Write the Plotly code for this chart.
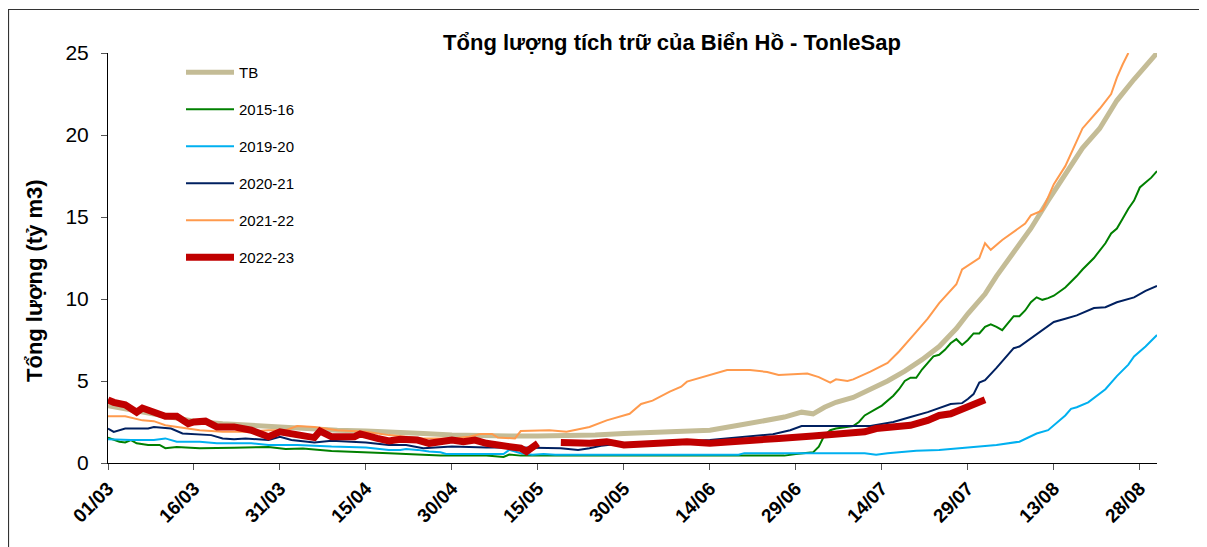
import plotly.graph_objects as go

# Day offsets from 01/03 and values (tỷ m3)
tick_days = [0, 15, 30, 45, 60, 75, 90, 105, 120, 135, 150, 165, 180]
tick_labels = ["01/03", "16/03", "31/03", "15/04", "30/04", "15/05", "30/05",
               "14/06", "29/06", "14/07", "29/07", "13/08", "28/08"]

tb_days = [0, 5, 10, 15, 20, 25, 30, 35, 40, 45, 50, 55, 60, 65, 70, 75, 80, 85, 90, 95,
           100, 105, 110, 115, 118, 121, 123, 125, 127, 130, 133, 136, 139, 142, 145, 148,
           150, 153, 155, 158, 161, 164, 167, 170, 173, 176, 179, 181, 183]
tb_vals = [3.5, 3.2, 2.85, 2.55, 2.4, 2.3, 2.15, 2.05, 2.0, 1.95, 1.9, 1.8, 1.7, 1.65, 1.65,
           1.65, 1.65, 1.7, 1.8, 1.85, 1.9, 2.0, 2.3, 2.6, 2.8, 3.1, 3.0, 3.4, 3.7, 4.0, 4.5,
           5.0, 5.6, 6.3, 7.1, 8.2, 9.1, 10.3, 11.4, 12.8, 14.3, 16.0, 17.6, 19.2, 20.4,
           22.1, 23.4, 24.2, 25.0]

g15_days = [0, 2, 3, 4, 5, 7, 9, 10, 12, 16, 22, 28, 31, 34, 39, 45, 49, 52, 58, 66, 69, 70,
            72, 118, 120, 123, 124, 125, 126, 127, 130, 131, 132, 134, 135, 137, 138, 139,
            140, 141, 142, 144, 145, 146, 147, 148, 149, 150, 151, 152, 153, 154, 155, 156,
            157, 158, 159, 160, 161, 162, 163, 164, 165, 167, 169, 170, 172, 174, 175, 176,
            177, 178, 179, 180, 181, 182, 183]
g15_vals = [1.55, 1.3, 1.25, 1.4, 1.2, 1.1, 1.1, 0.9, 0.97, 0.9, 0.93, 0.97, 0.85, 0.88, 0.73,
            0.67, 0.6, 0.55, 0.45, 0.45, 0.37, 0.52, 0.45, 0.45, 0.55, 0.65, 1.0, 1.7, 2.0,
            2.1, 2.25, 2.5, 2.9, 3.3, 3.5, 4.1, 4.5, 5.0, 5.2, 5.2, 5.7, 6.5, 6.6, 6.9, 7.3,
            7.55, 7.2, 7.5, 7.9, 7.9, 8.3, 8.45, 8.3, 8.1, 8.5, 8.95, 8.95, 9.3, 9.8, 10.1,
            9.95, 10.05, 10.2, 10.7, 11.4, 11.8, 12.5, 13.4, 14.0, 14.3, 14.9, 15.5, 16.0,
            16.8, 17.1, 17.4, 17.8]

y19_days = [0, 4, 8, 10, 12, 16, 19, 25, 28, 33, 39, 45, 49, 51, 52, 54, 56, 58, 59, 63, 69,
            70, 71, 72, 74, 76, 78, 110, 111, 132, 134, 136, 141, 145, 150, 155, 159, 162,
            164, 165, 167, 168, 169, 171, 173, 174, 176, 178, 179, 181, 183]
y19_vals = [1.45, 1.4, 1.4, 1.5, 1.3, 1.3, 1.2, 1.2, 1.1, 1.1, 1.0, 0.95, 0.8, 0.8, 0.85, 0.8,
            0.7, 0.65, 0.55, 0.55, 0.55, 0.8, 0.7, 0.6, 0.5, 0.55, 0.5, 0.5, 0.6, 0.6, 0.5,
            0.6, 0.75, 0.8, 0.95, 1.1, 1.3, 1.8, 2.0, 2.3, 2.9, 3.3, 3.4, 3.7, 4.25, 4.5, 5.3,
            6.0, 6.5, 7.1, 7.8]

y20_days = [0, 1, 3, 7, 8, 11, 13, 18, 20, 22, 24, 28, 30, 32, 36, 39, 45, 49, 52, 55, 60,
            66, 72, 79, 82, 84, 86, 90, 95, 100, 105, 111, 116, 119, 121, 133, 137, 140, 143,
            147, 149, 150, 151, 152, 153, 155, 157, 158, 159, 161, 163, 165, 167, 169, 172,
            174, 176, 179, 181, 183]
y20_vals = [2.1, 1.9, 2.1, 2.1, 2.2, 2.1, 1.8, 1.7, 1.5, 1.45, 1.5, 1.4, 1.6, 1.4, 1.25, 1.35,
            1.25, 1.1, 1.1, 0.9, 1.0, 0.95, 0.95, 0.9, 0.8, 0.9, 1.05, 1.2, 1.25, 1.3, 1.4,
            1.6, 1.75, 2.0, 2.25, 2.25, 2.5, 2.8, 3.1, 3.6, 3.65, 3.9, 4.2, 4.9, 5.05, 5.8,
            6.6, 7.0, 7.1, 7.6, 8.1, 8.6, 8.8, 9.0, 9.45, 9.5, 9.8, 10.1, 10.5, 10.8]

y21_days = [0, 3, 6, 8, 10, 14, 16, 20, 24, 28, 31, 33, 36, 40, 45, 49, 55, 60, 63, 65, 67,
            68, 71, 72, 75, 77, 80, 84, 87, 91, 93, 95, 98, 100, 101, 104, 108, 112, 115, 117,
            120, 122, 124, 126, 127, 129, 130, 133, 136, 138, 141, 143, 145, 148, 149, 152,
            153, 154, 156, 158, 160, 161, 163, 165, 167, 170, 173, 175, 176, 177, 178]
y21_vals = [2.85, 2.85, 2.6, 2.55, 2.3, 2.1, 2.0, 1.9, 1.9, 2.0, 2.0, 2.25, 2.2, 2.0, 1.9, 1.7,
            1.5, 1.5, 1.6, 1.77, 1.77, 1.55, 1.5, 1.95, 2.0, 2.0, 1.9, 2.2, 2.6, 3.0, 3.6, 3.8,
            4.35, 4.65, 4.96, 5.26, 5.67, 5.67, 5.55, 5.37, 5.4, 5.45, 5.24, 4.9, 5.1, 5.0,
            5.1, 5.57, 6.1, 6.8, 8.0, 8.8, 9.75, 10.9, 11.8, 12.5, 13.4, 13.0, 13.6, 14.1,
            14.6, 15.1, 15.4, 17.0, 18.1, 20.4, 21.6, 22.5, 23.5, 24.3, 25.0]

y22_days = [0, 1, 3, 5, 6, 8, 10, 12, 14, 15, 17, 19, 22, 25, 28, 30, 33, 36, 37, 39, 43, 44,
            47, 49, 51, 54, 56, 58, 60, 62, 64, 66, 68, 70, 72, 73, 74, 75, 77, 79, 84, 87,
            90, 96, 101, 105, 111, 117, 123, 128, 132, 134, 137, 140, 143, 145, 147, 149,
            151, 153]
y22_vals = [3.85, 3.7, 3.55, 3.1, 3.35, 3.1, 2.85, 2.85, 2.4, 2.5, 2.55, 2.2, 2.2, 2.0, 1.6,
            1.9, 1.7, 1.55, 1.95, 1.6, 1.6, 1.77, 1.5, 1.35, 1.45, 1.4, 1.2, 1.3, 1.4, 1.3,
            1.4, 1.2, 1.1, 1.1, 0.9, 0.7, 0.95, 1.2, None, 1.25, 1.2, 1.3, 1.1, 1.2, 1.3, 1.2,
            1.4, 1.5, 1.65, 1.75, 1.9, 2.1, 2.2, 2.3, 2.6, 2.9, 3.0, 3.3, 3.65, 3.85]

series = [
    ("TB", tb_days, tb_vals, "#C4BC96", 5),
    ("2015-16", g15_days, g15_vals, "#008000", 2),
    ("2019-20", y19_days, y19_vals, "#00B0F0", 2),
    ("2020-21", y20_days, y20_vals, "#002060", 2),
    ("2021-22", y21_days, y21_vals, "#FF9A4D", 2),
    ("2022-23", y22_days, y22_vals, "#C00000", 7),
]

FONT = "Liberation Sans, Arial, sans-serif"

fig = go.Figure()
for i, (name, d, v, c, w) in enumerate(series):
    fig.add_trace(go.Scatter(x=d, y=v, mode="lines", name=name, legendgroup=str(i),
                             line=dict(color=c, width=w), connectgaps=False))

# page body adds an 8px offset; lay out in target pixels minus that offset
OFF = 8
W, H = 1207 - OFF, 547 - OFF
L, R, T, B = 108 - OFF, 1157 - OFF, 53 - OFF, 463 - OFF
pw, ph = R - L, B - T

def px(x):
    return (x - OFF - L) / pw

def py(y):
    return (B - (y - OFF)) / ph

fig.add_shape(type="rect", xref="paper", yref="paper",
              x0=px(8.5), x1=px(1230), y0=py(600), y1=py(9.5),
              line=dict(color="#333333", width=1.2), layer="below")

fig.add_annotation(text="<b>Tổng lượng (tỷ m3)</b>", xref="paper", yref="paper",
                   x=px(34), y=py(281), textangle=-90, showarrow=False,
                   xanchor="center", yanchor="middle",
                   font=dict(size=22, family=FONT, color="black"))

fig.update_layout(
    width=W, height=H,
    margin=dict(l=L, r=W - R, t=T, b=H - B, autoexpand=False),
    paper_bgcolor="white", plot_bgcolor="white",
    font=dict(family=FONT, color="black"),
    title=dict(text="<b>Tổng lượng tích trữ của Biển Hồ - TonleSap</b>",
               font=dict(size=22, family=FONT, color="black"),
               x=(672 - OFF) / W, xanchor="center", xref="container",
               y=1 - (42 - OFF) / H, yanchor="middle", yref="container"),
    legend=dict(x=px(181), y=py(56), xanchor="left", yanchor="top",
                font=dict(size=15, family=FONT), bgcolor="rgba(0,0,0,0)",
                tracegroupgap=14.5, traceorder="grouped", itemwidth=48),
    showlegend=True,
)
fig.update_xaxes(range=[0, 183], tickvals=tick_days, ticktext=tick_labels,
                 tickangle=-45, automargin=False,
                 tickfont=dict(size=19, family="Liberation Sans, Arial", color="black",
                               weight="bold"),
                 showgrid=False, zeroline=False, showline=True, linecolor="black", linewidth=1,
                 ticks="outside", ticklen=6, tickcolor="#555555")
fig.update_yaxes(range=[0, 25], tickvals=[0, 5, 10, 15, 20, 25], automargin=False,
                 tickfont=dict(size=21, family=FONT, color="black"),
                 showgrid=False, zeroline=False, showline=True, linecolor="black", linewidth=1,
                 ticks="outside", ticklen=6, tickcolor="#555555", ticklabelstandoff=8)

fig.write_html("out.html")
